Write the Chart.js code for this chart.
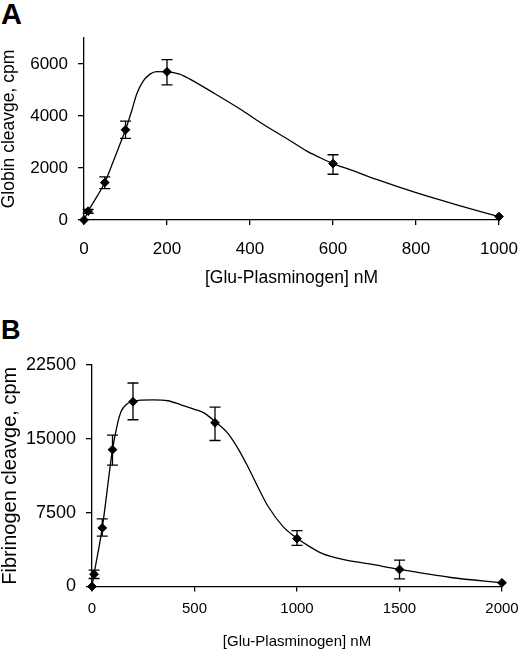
<!DOCTYPE html>
<html>
<head>
<meta charset="utf-8">
<script src="https://cdn.jsdelivr.net/npm/chart.js@4.4.1/dist/chart.umd.min.js"></script>
<style>
  html, body { margin: 0; padding: 0; background: #fff; }
  body { width: 520px; height: 652px; position: relative; overflow: hidden; font-family: 'Liberation Sans', Arial, sans-serif; }
  .panel { position: absolute; left: 0; width: 520px; }
  .letter { position: absolute; left: 1px; font-weight: bold; line-height: 1; color: #000; }
</style>
</head>
<body>
<div class="letter" style="top:0px; font-size:29px;">A</div>
<div class="panel" style="top:0px; height:300px;"><canvas id="chartA"></canvas></div>
<div class="letter" style="top:317px; font-size:27px;">B</div>
<div class="panel" style="top:310px; height:342px;"><canvas id="chartB"></canvas></div>
<script>
// ---- Panel A: globin cleavage ----
const aDoseX   = [0, 10, 50, 100, 200, 600, 1000];
const aMean    = [0, 340, 1440, 3470, 5700, 2170, 130];
const aErrHigh = [null, 410, 1660, 3800, 6170, 2510, null];
const aErrLow  = [null, 260, 1210, 3140, 5200, 1760, null];
// fitted curve
const aCurveX = [0, 10, 50, 70, 87, 100, 115, 127, 143, 159, 175, 200, 230, 255, 310, 376, 424, 456, 496, 537, 561, 600, 641, 705, 800, 900, 1000];
const aCurveY = [0, 330, 1440, 2230, 2930, 3470, 4200, 4850, 5350, 5610, 5710, 5700, 5610, 5420, 4910, 4270, 3760, 3440, 3060, 2650, 2460, 2170, 1940, 1560, 1050, 575, 130];
const aXTicks = [0, 200, 400, 600, 800, 1000];
const aYTicks = [0, 2000, 4000, 6000];

// ---- Panel B: fibrinogen cleavage ----
const bDoseX   = [0, 10, 50, 100, 200, 600, 1000, 1500, 2000];
const bMean    = [0, 1250, 5950, 13900, 18770, 16630, 4860, 1730, 373];
const bErrHigh = [null, 1660, 6860, 15380, 20670, 18230, 5670, 2680, null];
const bErrLow  = [null, 815, 5125, 12320, 16940, 14830, 4175, 780, null];
const bCurveX = [0, 10, 50, 100, 125, 142, 166, 200, 239, 300, 369, 434, 500, 548, 600, 662, 711, 760, 808, 857, 932, 1000, 1062, 1127, 1224, 1355, 1500, 1750, 2000];
const bCurveY = [0, 1250, 5950, 13900, 16600, 17780, 18460, 18800, 18935, 18950, 18870, 18460, 18000, 17615, 16750, 15580, 14055, 12185, 10150, 8200, 6085, 4900, 4050, 3305, 2765, 2290, 1730, 916, 373];
const bXTicks = [0, 500, 1000, 1500, 2000];
const bYTicks = [0, 7500, 15000, 22500];

const FONT = "'Liberation Sans', Arial, sans-serif";
const INK = '#000';

// vertical error bars with caps, drawn through the chart's scales
const errorBars = {
  id: 'errorBars',
  afterDatasetsDraw(chart, args, opts) {
    const { ctx, scales: { x, y } } = chart;
    ctx.save();
    ctx.strokeStyle = INK;
    ctx.lineWidth = 1.3;
    opts.xs.forEach((v, i) => {
      if (opts.hi[i] == null) return;
      const px = x.getPixelForValue(v);
      const top = y.getPixelForValue(opts.hi[i]);
      const bot = y.getPixelForValue(opts.lo[i]);
      ctx.beginPath();
      ctx.moveTo(px, top); ctx.lineTo(px, bot);
      ctx.moveTo(px - opts.cap, top); ctx.lineTo(px + opts.cap, top);
      ctx.moveTo(px - opts.cap, bot); ctx.lineTo(px + opts.cap, bot);
      ctx.stroke();
    });
    ctx.restore();
  }
};

function pairs(xs, ys) {
  return xs.map((v, i) => ({ x: v, y: ys[i] }));
}

function makePanel(id, cfg) {
  const ctx = document.getElementById(id).getContext('2d');
  return new Chart(ctx, {
    type: 'line',
    data: {
      datasets: [
        {
          label: 'fit',
          data: pairs(cfg.curveX, cfg.curveY),
          borderColor: INK,
          borderWidth: 1.3,
          pointRadius: 0,
          cubicInterpolationMode: 'monotone',
          fill: false,
          clip: false
        },
        {
          label: 'measured',
          data: pairs(cfg.doseX, cfg.mean),
          showLine: false,
          pointStyle: 'rectRot',
          pointRadius: 4.4,
          pointBackgroundColor: INK,
          pointBorderColor: INK,
          pointBorderWidth: 1,
          clip: false
        }
      ]
    },
    options: {
      responsive: true,
      maintainAspectRatio: false,
      animation: false,
      layout: { padding: cfg.padding },
      plugins: {
        legend: { display: false },
        tooltip: { enabled: false },
        errorBars: { xs: cfg.doseX, hi: cfg.errHigh, lo: cfg.errLow, cap: 5.5 }
      },
      scales: {
        x: {
          type: 'linear',
          min: cfg.xTicks[0],
          max: cfg.xTicks[cfg.xTicks.length - 1],
          afterBuildTicks: (s) => { s.ticks = cfg.xTicks.map(v => ({ value: v })); },
          afterFit: (s) => {
            s.height = cfg.xHeight;
            s.paddingLeft = 0;
            s.paddingRight = 0;
          },
          ticks: {
            color: INK,
            font: { family: FONT, size: cfg.xTickSize },
            padding: cfg.xTickPad,
            maxRotation: 0,
            callback: (v) => String(v)
          },
          grid: { drawOnChartArea: false, tickLength: 5, color: INK, lineWidth: 1.3 },
          border: { color: INK, width: 1.3 },
          title: {
            display: true,
            text: '[Glu-Plasminogen] nM',
            color: INK,
            font: { family: FONT, size: cfg.xTitleSize },
            padding: { top: 0, bottom: cfg.xTitlePad }
          }
        },
        y: {
          type: 'linear',
          min: 0,
          max: cfg.yMax,
          bounds: 'data',
          afterBuildTicks: (s) => { s.ticks = cfg.yTicks.map(v => ({ value: v })); },
          afterFit: (s) => {
            s.width = cfg.yWidth;
            s.paddingTop = 0;
            s.paddingBottom = 0;
          },
          ticks: {
            color: INK,
            font: { family: FONT, size: cfg.yTickSize },
            padding: 10,
            callback: (v) => String(v)
          },
          grid: { drawOnChartArea: false, tickLength: 6, color: INK, lineWidth: 1.3 },
          border: { color: INK, width: 1.3 },
          title: {
            display: true,
            text: cfg.yTitle,
            color: INK,
            font: { family: FONT, size: cfg.yTitleSize, lineHeight: 1 },
            padding: { top: 0, bottom: 0 }
          }
        }
      }
    },
    plugins: [errorBars]
  });
}

makePanel('chartA', {
  doseX: aDoseX, mean: aMean, errHigh: aErrHigh, errLow: aErrLow,
  curveX: aCurveX, curveY: aCurveY,
  xTicks: aXTicks, yTicks: aYTicks, yMax: 7000,
  yTitle: 'Globin cleavge, cpm',
  padding: { top: 38, right: 21, bottom: 0, left: 0 },
  xHeight: 80, yWidth: 84,
  xTickSize: 17, xTickPad: 14, xTitleSize: 17.5, xTitlePad: 11,
  yTickSize: 17, yTitleSize: 17.5
});

makePanel('chartB', {
  doseX: bDoseX, mean: bMean, errHigh: bErrHigh, errLow: bErrLow,
  curveX: bCurveX, curveY: bCurveY,
  xTicks: bXTicks, yTicks: bYTicks, yMax: 22500,
  yTitle: 'Fibrinogen cleavge, cpm',
  padding: { top: 55, right: 18, bottom: 0, left: 0 },
  xHeight: 65.5, yWidth: 92,
  xTickSize: 15, xTickPad: 8, xTitleSize: 15, xTitlePad: 1,
  yTickSize: 18, yTitleSize: 20
});
</script>
</body>
</html>
